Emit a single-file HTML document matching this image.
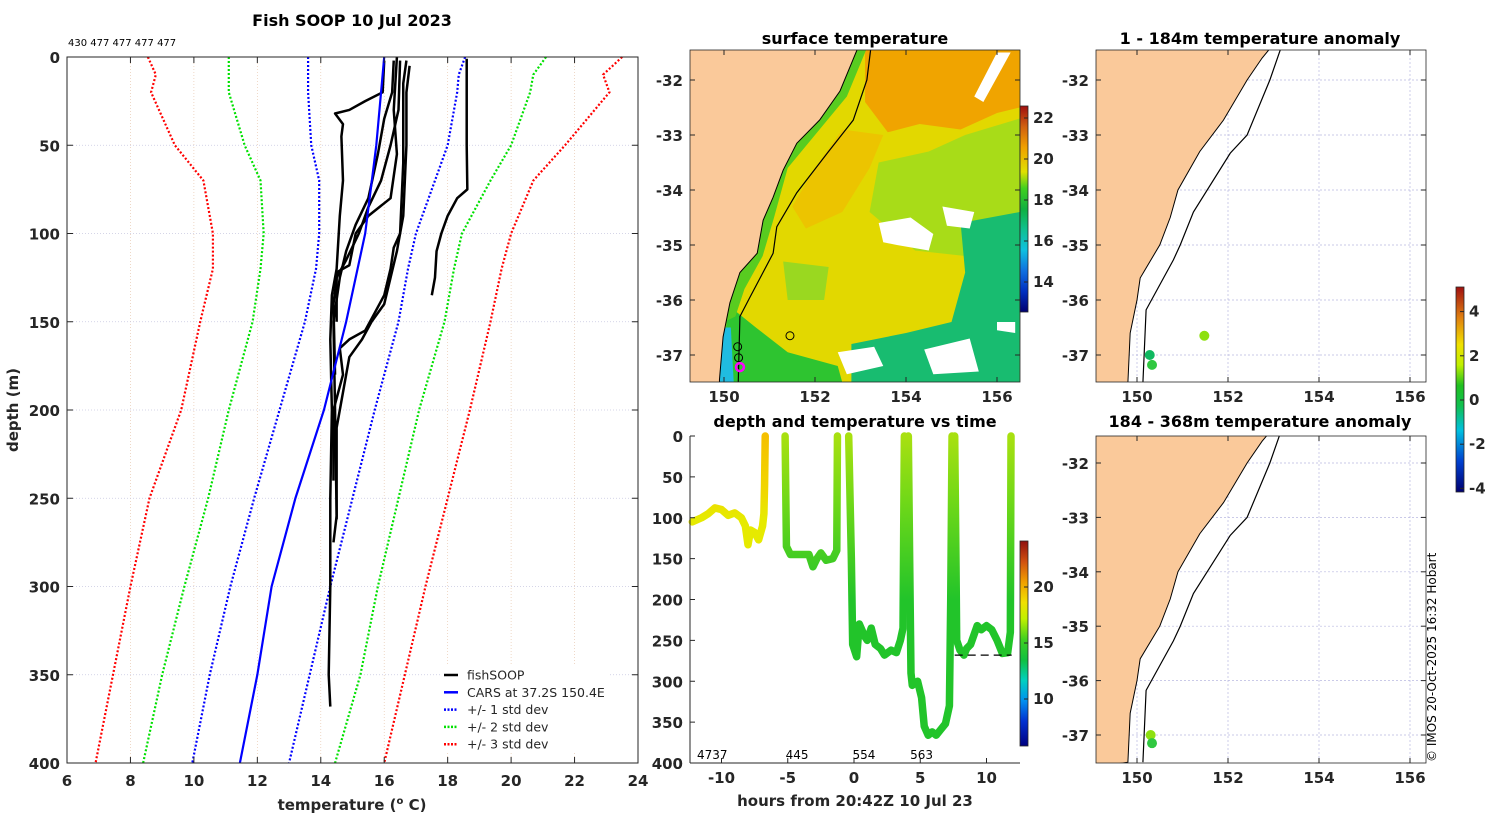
<!DOCTYPE html>
<html><head><meta charset="utf-8">
<style>
html,body{margin:0;padding:0;background:#fff;}
svg{display:block;font-family:"DejaVu Sans","Liberation Sans",sans-serif;}
.tk{font-size:15px;font-weight:bold;fill:#262626;}
.tt{font-size:16px;font-weight:bold;fill:#000;}
</style></head>
<body>
<svg id="fig" width="1500" height="820" viewBox="0 0 1500 820" xmlns="http://www.w3.org/2000/svg">
<defs>
<linearGradient id="cbJet" x1="0" y1="1" x2="0" y2="0">
<stop offset="0" stop-color="#000080"/><stop offset="0.12" stop-color="#0030d0"/><stop offset="0.22" stop-color="#0090f0"/><stop offset="0.32" stop-color="#00d0c0"/><stop offset="0.42" stop-color="#10c040"/><stop offset="0.52" stop-color="#40d020"/><stop offset="0.62" stop-color="#c0f000"/><stop offset="0.7" stop-color="#f0e000"/><stop offset="0.8" stop-color="#f0a000"/><stop offset="0.9" stop-color="#d05010"/><stop offset="1" stop-color="#901010"/>
</linearGradient>
<linearGradient id="cbSst" x1="0" y1="1" x2="0" y2="0">
<stop offset="0" stop-color="#000070"/><stop offset="0.1" stop-color="#0030c0"/><stop offset="0.2" stop-color="#1070e0"/><stop offset="0.3" stop-color="#10c0e0"/><stop offset="0.4" stop-color="#10c090"/><stop offset="0.5" stop-color="#10b040"/><stop offset="0.6" stop-color="#40d020"/><stop offset="0.68" stop-color="#e0e000"/><stop offset="0.8" stop-color="#f0a000"/><stop offset="0.9" stop-color="#d06010"/><stop offset="1" stop-color="#a01010"/>
</linearGradient>
<linearGradient id="cbAnom" x1="0" y1="1" x2="0" y2="0">
<stop offset="0" stop-color="#000070"/><stop offset="0.15" stop-color="#0040d0"/><stop offset="0.3" stop-color="#00c0e0"/><stop offset="0.42" stop-color="#10c050"/><stop offset="0.52" stop-color="#20c020"/><stop offset="0.62" stop-color="#c0f000"/><stop offset="0.72" stop-color="#f0e000"/><stop offset="0.85" stop-color="#e08010"/><stop offset="1" stop-color="#a01010"/>
</linearGradient>
</defs>
</svg>
<script>
// ---------- data: left profile panel ----------
const depthStd = [0,10,20,50,70,100,120,150,200,250,300,350,400];
const red1 = [8.55,8.8,8.65,9.4,10.3,10.6,10.6,10.2,9.6,8.6,8.0,7.45,6.9];
const grn1 = [11.1,11.1,11.1,11.6,12.1,12.2,12.1,11.85,11.1,10.45,9.7,9.0,8.4];
const blu1 = [13.6,13.6,13.6,13.7,13.95,13.95,13.85,13.5,12.7,11.9,11.15,10.5,9.95];
const blu2 = [18.55,18.35,18.3,18.0,17.6,17.0,16.75,16.45,15.7,15.0,14.3,13.65,13.0];
const grn2 = [21.1,20.7,20.6,20.0,19.35,18.45,18.2,17.9,17.1,16.45,15.8,15.25,14.45];
const red2 = [23.5,22.9,23.1,21.7,20.7,20.0,19.7,19.35,18.7,18.0,17.3,16.65,16.0];
const carsDepth = [0,50,100,150,200,250,300,350,400];
const carsTemp = [16.0,15.75,15.4,14.8,14.1,13.2,12.45,12.0,11.45];
const fishProfiles = [
 [[18.6,1],[18.6,50],[18.62,75],[18.3,80],[18.0,90],[17.8,100],[17.65,110],[17.6,125],[17.5,135]],
 [[16.0,2],[15.95,20],[15.4,25],[14.9,30],[14.45,32],[14.7,38],[14.65,45],[14.7,70],[14.6,90],[14.5,120],[14.35,135],[14.3,160],[14.35,200],[14.3,250],[14.3,300],[14.25,350],[14.3,368]],
 [[16.3,2],[16.25,20],[16.0,35],[15.8,55],[15.5,80],[15.1,95],[14.8,110],[14.6,125],[14.4,150],[14.45,200],[14.5,260],[14.4,275]],
 [[16.5,2],[16.45,30],[16.2,50],[15.9,70],[15.5,85],[15.2,100],[14.8,115],[14.5,125],[14.4,140],[14.45,180]],
 [[16.7,2],[16.6,15],[16.6,60],[16.5,100],[16.3,108],[16.2,120],[16.0,135],[15.7,145],[15.4,155],[14.9,160],[14.6,165],[14.7,180],[14.4,200],[14.4,240]],
 [[16.8,5],[16.7,20],[16.7,50],[16.6,90],[16.4,110],[16.2,125],[16.0,140],[15.6,150],[15.3,160],[14.9,170],[14.7,190],[14.5,210],[14.5,262]],
 [[16.4,0],[16.3,30],[16.4,55],[16.2,80],[15.5,90],[15.1,100],[14.9,118],[14.5,122],[14.5,150]]
];
const tempTicks = [6,8,10,12,14,16,18,20,22,24];
const depthTicks = [0,50,100,150,200,250,300,350,400];
// ---------- data: time series ----------
const tsSegments = [
 [[-12.2,105],[-11.5,100],[-11,95],[-10.5,88],[-10,90],[-9.5,97],[-9,94],[-8.5,100],[-8.2,110],[-8.0,133],[-7.8,115],[-7.5,118],[-7.2,127],[-6.9,110],[-6.8,95],[-6.75,60],[-6.7,0]],
 [[-5.2,0],[-5.1,135],[-4.8,145],[-4,145],[-3.4,145],[-3.1,160],[-2.8,150],[-2.5,143],[-2.1,152],[-1.6,150],[-1.3,140],[-1.25,0]],
 [[-0.4,0],[-0.2,150],[-0.1,255],[0.2,270],[0.4,230],[0.8,245],[1.0,250],[1.3,235],[1.6,255],[2.0,260],[2.3,268],[2.8,262],[3.2,265],[3.5,250],[3.7,235],[3.8,0]],
 [[4.1,0],[4.2,150],[4.3,290],[4.4,305],[4.8,300],[5.1,320],[5.3,355],[5.6,366],[5.9,362],[6.2,366],[6.5,360],[6.9,352],[7.2,330],[7.3,200],[7.4,0]],
 [[7.6,0],[7.7,160],[7.75,250],[8.0,262],[8.3,268],[8.5,260],[8.8,255],[9.3,232],[9.6,237],[10.0,232],[10.4,237],[10.8,250],[11.2,266],[11.6,265],[11.8,240],[11.85,0]]
];
const tsSegTemp = [18.5,15.2,15.0,15.1,15.3];
const tsLabels = ["4737","445","554","563"];
const tsLabelHour = [-10.7,-4.3,0.75,5.1];
const hourTicks = [-10,-5,0,5,10];
const bottomDepth = 268;
// ---------- data: maps ----------
const coastLon = [152.9,152.75,152.42,151.9,151.38,150.9,150.73,150.5,150.07,150.0,149.85,149.8];
const coastLat = [-31.45,-31.6,-32,-32.73,-33.3,-34,-34.5,-35,-35.6,-36,-36.6,-37.5];
const isoLon = [153.15,152.92,152.42,152.05,151.24,150.95,150.8,150.2,150.13];
const isoLat = [-31.45,-32,-33,-33.33,-34.4,-35,-35.27,-36.18,-37.5];
const sstCoastLon = [152.95,152.55,152.1,151.6,151.3,151.08,150.86,150.73,150.35,150.13,149.98,149.9,149.9];
const sstCoastLat = [-31.4,-32.2,-32.73,-33.15,-33.64,-34.13,-34.55,-35.15,-35.5,-36.05,-36.67,-37.45,-37.6];
const sstIsoLon = [153.23,153.14,152.84,152.27,151.6,151.16,151.08,150.57,150.35,150.31];
const sstIsoLat = [-31.4,-32,-32.73,-33.33,-34.05,-34.67,-35.15,-35.95,-36.3,-37.6];
const profLon = [150.3,150.32,151.45,150.35];
const profLat = [-36.85,-37.05,-36.65,-37.22];
const anomTop = [0.1,0.4,1.2];
const anomTopLon = [150.28,150.33,151.48];
const anomTopLat = [-37.0,-37.18,-36.65];
const anomBot = [1.0,0.9];
const anomBotLon = [150.3,150.33];
const anomBotLat = [-37.0,-37.15];
const lonTicks = [150,152,154,156];
const latTicks = [-32,-33,-34,-35,-36,-37];
const sstTicks = [22,20,18,16,14];
const tsCbTicks = [20,15,10];
const anomTicks = [4,2,0,-2,-4];

const NS = "http://www.w3.org/2000/svg";
const svg = document.getElementById("fig");
function mk(tag, attrs, parent){const e=document.createElementNS(NS,tag);for(const k in attrs)e.setAttribute(k,attrs[k]);(parent||svg).appendChild(e);return e;}
function txt(s, attrs, parent){const e=mk("text",attrs,parent);e.textContent=s;return e;}

// ---------- left panel ----------
const L={x0:67,x1:638,y0:57,y1:763};
const xT = t => L.x0 + (t-6)*(L.x1-L.x0)/18;
const yD = d => L.y0 + d*(L.y1-L.y0)/400;
const gL = mk("g",{});


tempTicks.forEach(t=>{ if(t>6&&t<24){const l=mk("line",{x1:xT(t),x2:xT(t),y1:L.y0,y2:L.y1,stroke:"#e8c8b0","stroke-width":0.7,"stroke-dasharray":"1 2"},gL);
  }});
depthTicks.forEach(d=>{ if(d>0&&d<400){const l=mk("line",{x1:L.x0,x2:L.x1,y1:yD(d),y2:yD(d),stroke:"#c8c8e0","stroke-width":0.7,"stroke-dasharray":"1 2"},gL);
  }});
function stdLine(arr,col,name){const p=mk("polyline",{points:arr.map((t,i)=>xT(t)+","+yD(depthStd[i])).join(" "),fill:"none",stroke:col,"stroke-width":2.2,"stroke-dasharray":"2 2"},gL);
  }
stdLine(red1,"#ff0000","minus-3-std-line");stdLine(grn1,"#00e000","minus-2-std-line");stdLine(blu1,"#0000ff","minus-1-std-line");
stdLine(blu2,"#0000ff","plus-1-std-line");stdLine(grn2,"#00e000","plus-2-std-line");stdLine(red2,"#ff0000","plus-3-std-line");
fishProfiles.forEach(pr=>{const p=mk("polyline",{points:pr.map(q=>xT(q[0])+","+yD(q[1])).join(" "),fill:"none",stroke:"#000","stroke-width":2.5,"stroke-linejoin":"round"},gL);
  });
const cars=mk("polyline",{points:carsTemp.map((t,i)=>xT(t)+","+yD(carsDepth[i])).join(" "),fill:"none",stroke:"#0000ff","stroke-width":2.2},gL);
 
const bx=mk("rect",{x:L.x0,y:L.y0,width:L.x1-L.x0,height:L.y1-L.y0,fill:"none",stroke:"#262626","stroke-width":1},gL);
 
tempTicks.forEach(t=>{mk("line",{x1:xT(t),x2:xT(t),y1:L.y1,y2:L.y1-6,stroke:"#262626"},gL);mk("line",{x1:xT(t),x2:xT(t),y1:L.y0,y2:L.y0+6,stroke:"#262626"},gL);
 const e=txt(String(t),{x:xT(t),y:L.y1+23,"text-anchor":"middle",class:"tk"},gL);});
depthTicks.forEach(d=>{mk("line",{x1:L.x0,x2:L.x0+6,y1:yD(d),y2:yD(d),stroke:"#262626"},gL);mk("line",{x1:L.x1,x2:L.x1-6,y1:yD(d),y2:yD(d),stroke:"#262626"},gL);
 const e=txt(String(d),{x:60,y:yD(d)+6,"text-anchor":"end",class:"tk"},gL);});
// legend
const lg=mk("g",{},gL);  
mk("rect",{x:440,y:666,width:170,height:86,fill:"#fff"},lg);
const legItems=[["fishSOOP","#000",""],["CARS at 37.2S 150.4E","#0000ff",""],["+/- 1 std dev","#0000ff","2 1.5"],["+/- 2 std dev","#00e000","2 1.5"],["+/- 3 std dev","#ff0000","2 1.5"]];
legItems.forEach((it,i)=>{const y=675+i*17.3;const g=mk("g",{},lg);
 mk("line",{x1:444,x2:458,y1:y,y2:y,stroke:it[1],"stroke-width":2.5,"stroke-dasharray":it[2]},g);
 txt(it[0],{x:467,y:y+4.5,"font-size":"12.5px",fill:"#262626"},g);});
let e;
e=txt("Fish SOOP 10 Jul 2023",{x:352,y:26,"text-anchor":"middle",class:"tt","font-size":"17px"});
e=txt("430 477 477 477 477",{x:68,y:46,"font-size":"10px",fill:"#000"});
e=mk("text",{x:352,y:810,"text-anchor":"middle",class:"tk","font-size":"16px"});e.innerHTML='temperature (<tspan dy="-6" font-size="10px">o</tspan><tspan dy="6"> C)</tspan>';

e=txt("depth (m)",{x:18,y:410,"text-anchor":"middle",class:"tk","font-size":"16px",transform:"rotate(-90 18 410)"});

// ---------- time series panel ----------
const T={x0:690,x1:1020,y0:436,y1:763};
const xH = h => 854 + h*13.25;
const yTD = d => T.y0 + d*(T.y1-T.y0)/400;
const gT=mk("g",{});  
function tempCol(t){ if(t>=19.5) return "#f5b800"; if(t>=17.5) return "#e6ea00"; if(t>=16) return "#9ae010"; return "#22c42a";}
const tg=mk("linearGradient",{id:"tsTop",gradientUnits:"userSpaceOnUse",x1:0,y1:yTD(0),x2:0,y2:yTD(200)},svg.querySelector("defs"));
mk("stop",{offset:0,"stop-color":"#a8e010"},tg);mk("stop",{offset:0.4,"stop-color":"#70d818"},tg);mk("stop",{offset:1,"stop-color":"#22c42a"},tg);
const tg2=mk("linearGradient",{id:"tsTop1",gradientUnits:"userSpaceOnUse",x1:0,y1:yTD(0),x2:0,y2:yTD(100)},svg.querySelector("defs"));
mk("stop",{offset:0,"stop-color":"#f5c000"},tg2);mk("stop",{offset:0.7,"stop-color":"#f0d800"},tg2);mk("stop",{offset:1,"stop-color":"#e6ea00"},tg2);
tsSegments.forEach((seg,i)=>{const col = i===0?"url(#tsTop1)":(tsSegTemp[i]>=15?"url(#tsTop)":tempCol(tsSegTemp[i]));
 const p=mk("polyline",{points:seg.map(q=>xH(q[0])+","+yTD(q[1])).join(" "),fill:"none",stroke:col,"stroke-width":7.5,"stroke-linejoin":"round","stroke-linecap":"round"},gT);
  });
e=mk("line",{x1:xH(7.6),x2:xH(11.9),y1:yTD(bottomDepth),y2:yTD(bottomDepth),stroke:"#000","stroke-width":1.2,"stroke-dasharray":"8 5"},gT);

mk("line",{x1:T.x0,x2:T.x0,y1:T.y0,y2:T.y1,stroke:"#262626"},gT);mk("line",{x1:T.x0,x2:T.x1,y1:T.y1,y2:T.y1,stroke:"#262626"},gT);
depthTicks.forEach(d=>{mk("line",{x1:T.x0,x2:T.x0+5,y1:yTD(d),y2:yTD(d),stroke:"#262626"},gT);
 const e=txt(String(d),{x:683,y:yTD(d)+6,"text-anchor":"end",class:"tk"},gT);});
hourTicks.forEach(h=>{mk("line",{x1:xH(h),x2:xH(h),y1:T.y1,y2:T.y1-5,stroke:"#262626"},gT);
 const e=txt(String(h),{x:xH(h),y:783,"text-anchor":"middle",class:"tk"},gT);});
tsLabels.forEach((s,i)=>{const e=txt(s,{x:xH(tsLabelHour[i]),y:759,"text-anchor":"middle","font-size":"12px",fill:"#000"},gT);});
e=txt("depth and temperature vs time",{x:855,y:427,"text-anchor":"middle",class:"tt"});
e=txt("hours from 20:42Z 10 Jul 23",{x:855,y:806,"text-anchor":"middle",class:"tk","font-size":"16px"});
// ts colorbar
e=mk("rect",{x:1020,y:541,width:8,height:205,fill:"url(#cbJet)",stroke:"#262626","stroke-width":0.8});
const cbTs = t => 643 - (t-15)*11.2;
tsCbTicks.forEach(t=>{mk("line",{x1:1028,x2:1024,y1:cbTs(t),y2:cbTs(t),stroke:"#262626"});
 const e=txt(String(t),{x:1033,y:cbTs(t)+5,class:"tk","font-size":"13px"});});

// ---------- maps ----------
function makeMap(box,lon150,lat32,latPx,name){
 const X = lo => lon150 + (lo-150)*45.5;
 const Y = la => lat32 + (-32-la)*latPx;
 const g=mk("g",{});  
 const cp=mk("clipPath",{id:"clip-"+name},svg.querySelector("defs"));
 mk("rect",{x:box.x0,y:box.y0,width:box.x1-box.x0,height:box.y1-box.y0},cp);
 const inner=mk("g",{"clip-path":"url(#clip-"+name+")"},g);
 return {g,inner,X,Y};
}
function gridMap(m,box){
 lonTicks.forEach(lo=>mk("line",{x1:m.X(lo),x2:m.X(lo),y1:box.y0,y2:box.y1,stroke:"#b8b8e0","stroke-width":0.7,"stroke-dasharray":"2 2"},m.inner));
 latTicks.forEach(la=>mk("line",{x1:box.x0,x2:box.x1,y1:m.Y(la),y2:m.Y(la),stroke:"#b8b8e0","stroke-width":0.7,"stroke-dasharray":"2 2"},m.inner));
}
function landAndIso(m,box,cLon,cLat,iLon,iLat){
 const pts=cLon.map((lo,i)=>m.X(lo)+","+m.Y(cLat[i])).join(" ");
 let e=mk("polygon",{points:(box.x0-5)+","+(box.y0-5)+" "+pts+" "+(box.x0-5)+","+(box.y1+5),fill:"#fac99a",stroke:"#000","stroke-width":1},m.inner);
 
 e=mk("polyline",{points:iLon.map((lo,i)=>m.X(lo)+","+m.Y(iLat[i])).join(" "),fill:"none",stroke:"#000","stroke-width":1.2},m.inner);
 
}
function axesMap(m,box,labelY){
 mk("rect",{x:box.x0,y:box.y0,width:box.x1-box.x0,height:box.y1-box.y0,fill:"none",stroke:"#262626","stroke-width":0.8},m.g);
 lonTicks.forEach(lo=>{mk("line",{x1:m.X(lo),x2:m.X(lo),y1:box.y1,y2:box.y1-5,stroke:"#262626"},m.g);mk("line",{x1:m.X(lo),x2:m.X(lo),y1:box.y0,y2:box.y0+5,stroke:"#262626"},m.g);
  const e=txt(String(lo),{x:m.X(lo),y:labelY,"text-anchor":"middle",class:"tk"},m.g);});
 latTicks.forEach(la=>{mk("line",{x1:box.x0,x2:box.x0+5,y1:m.Y(la),y2:m.Y(la),stroke:"#262626"},m.g);mk("line",{x1:box.x1,x2:box.x1-5,y1:m.Y(la),y2:m.Y(la),stroke:"#262626"},m.g);
  const e=txt(String(la),{x:box.x0-7,y:m.Y(la)+6,"text-anchor":"end",class:"tk"},m.g);});
}
// SST map
const B1={x0:690,x1:1020,y0:50,y1:382};
const m1=makeMap(B1,724,80,55,"sst-map");
const sstRegions=[
 ["#e2d800",[[149,-31],[157,-31],[157,-38],[149,-38]]],
 ["#f0a400",[[153.1,-31.45],[153.1,-32.4],[153.6,-32.95],[154.3,-32.8],[155.2,-32.9],[156.0,-32.6],[156.5,-32.5],[156.5,-31.45]]],
 ["#ecc400",[[152.6,-32.9],[153.5,-33.0],[153.2,-33.6],[152.6,-34.4],[151.8,-34.7],[151.5,-34.3],[152.0,-33.6]]],
 ["#a8dc18",[[153.4,-33.5],[154.5,-33.3],[155.3,-33.0],[156.5,-32.7],[156.5,-34.5],[155.3,-35.2],[154.2,-35.1],[153.2,-34.4]]],
 ["#18bc70",[[155.2,-34.6],[156.5,-34.4],[156.5,-37.5],[152.8,-37.5],[152.8,-36.8],[154.0,-36.6],[155.0,-36.4],[155.3,-35.5]]],
 ["#2ec430",[[150.1,-36.1],[150.7,-36.5],[151.4,-36.95],[152.5,-37.2],[152.6,-37.5],[149.9,-37.5]]],
 ["#9ad820",[[151.3,-35.3],[152.3,-35.4],[152.2,-36.0],[151.4,-36.0]]],
 ["#58cc20",[[152.95,-31.4],[153.15,-31.4],[152.7,-32.3],[152.0,-33.0],[151.4,-33.6],[151.1,-34.5],[150.85,-35.2],[150.45,-35.8],[150.25,-36.3],[150.0,-36.4],[150.13,-36.05],[150.35,-35.5],[150.73,-35.15],[150.86,-34.55],[151.08,-34.13],[151.3,-33.64],[151.6,-33.15],[152.1,-32.73],[152.55,-32.2]]],
 ["#20bce0",[[149.9,-36.5],[150.15,-36.5],[150.22,-37.6],[149.9,-37.6]]],
 ["#ffffff",[[153.4,-34.6],[154.1,-34.5],[154.6,-34.8],[154.5,-35.1],[153.8,-35.0],[153.5,-34.95]]],
 ["#ffffff",[[154.8,-34.3],[155.5,-34.4],[155.4,-34.7],[154.9,-34.65]]],
 ["#ffffff",[[152.5,-36.95],[153.3,-36.85],[153.5,-37.2],[152.7,-37.35]]],
 ["#ffffff",[[154.4,-36.9],[155.4,-36.7],[155.6,-37.3],[154.6,-37.35]]],
 ["#ffffff",[[156.0,-31.5],[156.3,-31.5],[155.7,-32.4],[155.5,-32.3]]],
 ["#ffffff",[[156.0,-36.4],[156.4,-36.4],[156.4,-36.6],[156.0,-36.55]]]
];
sstRegions.forEach(r=>{const e=mk("polygon",{points:r[1].map(q=>m1.X(q[0])+","+m1.Y(q[1])).join(" "),fill:r[0]},m1.inner);
 });
landAndIso(m1,B1,sstCoastLon,sstCoastLat,sstIsoLon,sstIsoLat);
profLon.forEach((lo,i)=>{const e=mk("circle",{cx:m1.X(lo),cy:m1.Y(profLat[i]),r:4,fill:"none",stroke:i===3?"#ff00ff":"#000","stroke-width":i===3?2.5:1},m1.inner);
 });
axesMap(m1,B1,402);
e=txt("surface temperature",{x:855,y:44,"text-anchor":"middle",class:"tt"});
e=mk("rect",{x:1020,y:106,width:8,height:206,fill:"url(#cbSst)",stroke:"#262626","stroke-width":0.8});
const cbS = t => 200 - (t-18)*20.5;
sstTicks.forEach(t=>{mk("line",{x1:1028,x2:1024,y1:cbS(t),y2:cbS(t),stroke:"#262626"});
 const e=txt(String(t),{x:1033,y:cbS(t)+5,class:"tk","font-size":"13px"});});
// anomaly maps
function anomCol(a){ if(a>=1) return "#8ee010"; if(a>=0.3) return "#30c840"; return "#10b860";}
const B2={x0:1096,x1:1426,y0:50,y1:382};
const m2=makeMap(B2,1137,80,55,"anomaly-map-shallow");
gridMap(m2,B2);
landAndIso(m2,B2,coastLon,coastLat,isoLon,isoLat);
axesMap(m2,B2,402);
anomTop.forEach((a,i)=>{const e=mk("circle",{cx:m2.X(anomTopLon[i]),cy:m2.Y(anomTopLat[i]),r:5,fill:anomCol(a)},m2.inner);
 });
e=txt("1 - 184m temperature anomaly",{x:1260,y:44,"text-anchor":"middle",class:"tt"});
const B3={x0:1096,x1:1426,y0:436,y1:763};
const m3=makeMap(B3,1137,463,54.4,"anomaly-map-deep");
gridMap(m3,B3);
landAndIso(m3,B3,coastLon,coastLat,isoLon,isoLat);
axesMap(m3,B3,783);
anomBot.forEach((a,i)=>{const e=mk("circle",{cx:m3.X(anomBotLon[i]),cy:m3.Y(anomBotLat[i]),r:5,fill:anomCol(a)},m3.inner);
 });
e=txt("184 - 368m temperature anomaly",{x:1260,y:427,"text-anchor":"middle",class:"tt"});
e=mk("rect",{x:1456,y:287,width:8,height:205,fill:"url(#cbAnom)",stroke:"#262626","stroke-width":0.8});
const cbA = a => 400 - a*22.1;
anomTicks.forEach(a=>{mk("line",{x1:1464,x2:1460,y1:cbA(a),y2:cbA(a),stroke:"#262626"});
 const e=txt(String(a),{x:1469,y:cbA(a)+5,class:"tk","font-size":"13px"});});
e=txt("© IMOS 20-Oct-2025 16:32 Hobart",{x:1436,y:762,"font-size":"12px",fill:"#000",transform:"rotate(-90 1436 762)"});

</script>
</body></html>
